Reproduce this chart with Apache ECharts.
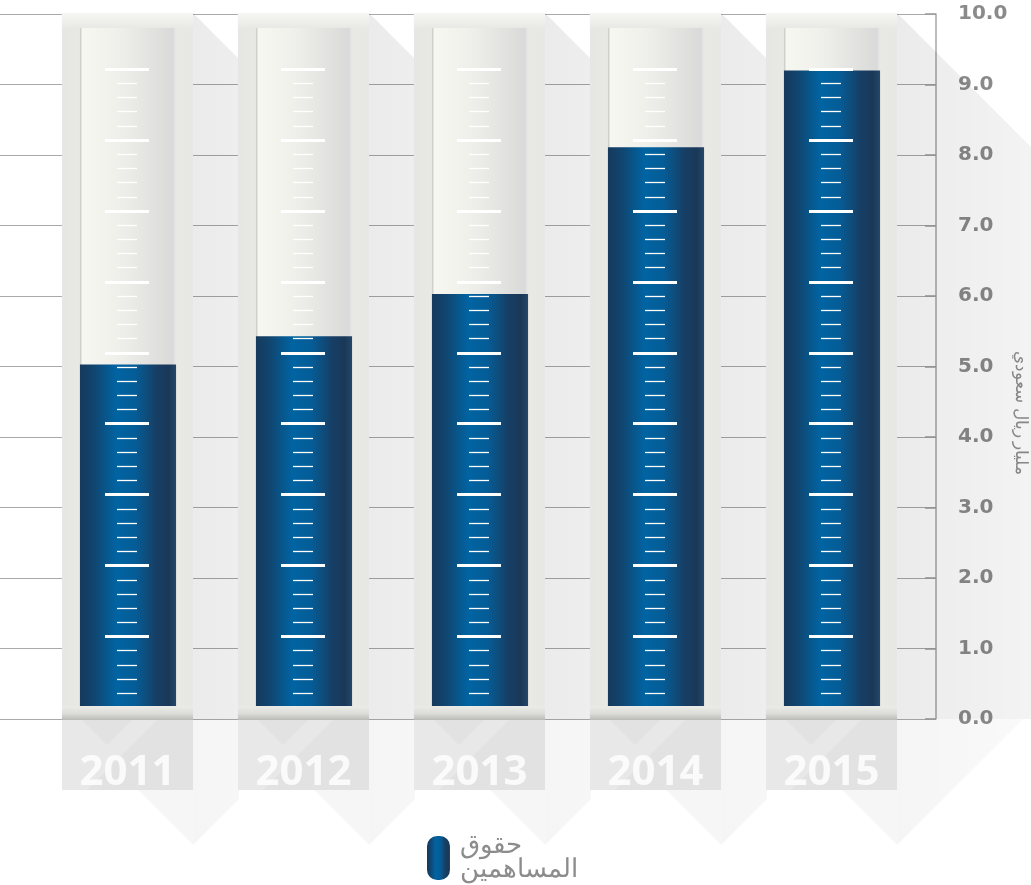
<!DOCTYPE html>
<html><head><meta charset="utf-8">
<script src="https://cdn.jsdelivr.net/npm/echarts@6/dist/echarts.min.js"></script>
<style>html,body{margin:0;padding:0;background:#fff}#c{width:1031px;height:885px}</style>
</head><body><div id="c"></div>
<script>
// ---- data ----
const categories = ['2011', '2012', '2013', '2014', '2015'];
const equityValues = [5.03, 5.43, 6.03, 8.11, 9.2];
const yMin = 0, yMax = 10, yInterval = 1;
const seriesName = 'حقوق المساهمين';
const legendLabel = 'حقوق\nالمساهمين';
const axisTitle = 'مليار ريال سعودي';

const G = echarts.graphic;
const blueStops = [
  {offset: 0, color: '#163a5c'}, {offset: 0.14, color: '#11456f'},
  {offset: 0.38, color: '#0064a2'}, {offset: 0.58, color: '#055c96'},
  {offset: 0.8, color: '#173e64'}, {offset: 0.93, color: '#1a3858'},
  {offset: 1, color: '#25476b'}
];

function renderItem(params, api) {
  const idx = api.value(0), val = api.value(1);
  const base = api.coord([idx, 0]);
  const xc = base[0], y0 = base[1];
  const yTop = api.coord([idx, yMax])[1];
  const yV = api.coord([idx, val])[1];
  const band = api.size([1, 0])[0];
  const unit = (y0 - yTop) / 10;
  const w = band * 0.745;
  const gap = band - w;
  const x0 = xc - w / 2, x1 = xc + w / 2;
  const colTop = yTop - 1;
  const tubeTop = yTop + 14;
  const tubeBot = y0 - 13;
  const boxBot = y0 + 71;
  const apexY = y0 + 126;
  const tubeX = x0 + 18, tubeW = w - 35;
  const last = params.dataIndex === categories.length - 1;
  const reach = last ? 330 : gap + 1;
  const children = [];
  // long shadows
  children.push({type: 'polygon', shape: {points: [[x1, colTop], [x1 + reach, colTop + reach], [x1 + reach, y0], [x1, y0]]},
    style: {fill: new G.LinearGradient(x1, 0, x1 + 330, 0, [{offset: 0, color: 'rgba(0,0,0,0.08)'}, {offset: 1, color: 'rgba(0,0,0,0)'}], true)}});
  const lowReach = last ? (apexY - y0) : gap + 1;
  children.push({type: 'polygon', shape: {points: last
      ? [[x1, y0], [x1 + (apexY - y0), y0], [x1, apexY]]
      : [[x1, y0], [x1 + lowReach, y0], [x1 + lowReach, apexY - lowReach], [x1, apexY]]},
    style: {fill: new G.LinearGradient(x1, 0, x1 + 200, 0, [{offset: 0, color: 'rgba(0,0,0,0.04)'}, {offset: 1, color: 'rgba(0,0,0,0.012)'}], true)}});
  children.push({type: 'polygon', shape: {points: [[x1 - 55, boxBot], [x1, boxBot], [x1, boxBot + 55]]},
    style: {fill: 'rgba(0,0,0,0.035)'}});
  // box under the axis
  children.push({type: 'rect', shape: {x: x0, y: y0 + 1, width: w, height: boxBot - y0 - 1}, style: {fill: '#e2e2e2'}});
  children.push({type: 'polygon', shape: {points: [[x0, y0 + 1], [x0 + 20, y0 + 1], [x0 + 45, y0 + 26], [x0 + 70, y0 + 1], [x0 + 95, y0 + 1], [x0 + 25, boxBot], [x0, boxBot]]},
    style: {fill: 'rgba(255,255,255,0.22)'}});
  // outer column
  children.push({type: 'rect', shape: {x: x0, y: colTop, width: w, height: tubeBot - colTop},
    style: {fill: new G.LinearGradient(0, 0, 1, 0, [{offset: 0, color: '#e6e6e2'}, {offset: 0.5, color: '#ededea'}, {offset: 1, color: '#e7e7e3'}])}});
  children.push({type: 'rect', shape: {x: x0, y: colTop, width: w, height: tubeTop - colTop},
    style: {fill: new G.LinearGradient(0, 0, 0, 1, [{offset: 0, color: '#f6f6f2'}, {offset: 0.4, color: '#f1f1ed'}, {offset: 1, color: '#e8e8e4'}])}});
  // base
  children.push({type: 'rect', shape: {x: x0, y: tubeBot, width: w, height: y0 + 1 - tubeBot},
    style: {fill: new G.LinearGradient(0, 0, 0, 1, [{offset: 0, color: '#ebebe7'}, {offset: 0.55, color: '#dcdcd8'}, {offset: 1, color: '#b9b9b5'}])}});
  // tube
  children.push({type: 'rect', shape: {x: tubeX, y: tubeTop, width: tubeW, height: tubeBot - tubeTop},
    style: {fill: new G.LinearGradient(0, 0, 1, 0, [{offset: 0, color: '#c4c4c0'}, {offset: 0.025, color: '#f7f7f2'}, {offset: 0.35, color: '#f1f1ec'}, {offset: 0.9, color: '#dcdcdb'}, {offset: 0.97, color: '#dadada'}, {offset: 1, color: '#eaeaea'}])}});
  // liquid
  children.push({type: 'rect', shape: {x: tubeX, y: yV, width: tubeW, height: tubeBot - yV},
    style: {fill: new G.LinearGradient(0, 0, 1, 0, blueStops)}});
  // scale ticks (decoration)
  const step = unit * 1.006 / 5;
  const cx = tubeX + tubeW / 2 - 1;
  for (let i = 0; i < 45; i++) {
    const y = Math.round(tubeBot - 13 - i * step) + 0.5;
    const major = (i + 1) % 5 === 0;
    const half = major ? 22 : 10;
    children.push({type: 'line', shape: {x1: cx - half, y1: y, x2: cx + half, y2: y},
      style: {stroke: '#ffffff', lineWidth: major ? 3 : 1.3}});
  }
  return {type: 'group', children};
}

const chart = echarts.init(document.getElementById('c'), null, {renderer: 'canvas'});
chart.setOption({
  animation: false,
  backgroundColor: '#ffffff',
  grid: [
    {left: 0, right: 95, top: 14, bottom: 166},
    {left: 39.5, right: 111.5, top: 14, bottom: 166}
  ],
  xAxis: [
    {gridIndex: 0, type: 'value', show: false, min: 0, max: 1},
    {gridIndex: 1, type: 'category', data: categories, z: 10,
      axisLine: {show: false}, axisTick: {show: false},
      axisLabel: {margin: 54, verticalAlign: 'middle', lineHeight: 42, fontSize: 42, fontWeight: 'bold',
        fontFamily: 'Open Sans', color: 'rgba(255,255,255,0.82)'}}
  ],
  yAxis: [
    {gridIndex: 0, type: 'value', position: 'right', min: yMin, max: yMax, interval: yInterval,
      axisLine: {show: true, onZero: false, lineStyle: {color: '#a6a6a6', width: 1.5}},
      axisTick: {show: true, inside: true, length: 11, lineStyle: {color: '#9a9a9a', width: 1.5}},
      splitLine: {show: true, lineStyle: {color: '#a9a9a9', width: 1}},
      axisLabel: {margin: 22, fontSize: 20, fontWeight: 'bold', fontFamily: 'DejaVu Sans', color: '#8a8a8a',
        padding: [3, 0, 0, 0], formatter: v => v.toFixed(1)}},
    {gridIndex: 1, type: 'value', min: yMin, max: yMax, interval: yInterval, show: false}
  ],
  legend: {
    left: 427, top: 833, padding: 0, itemWidth: 23, itemHeight: 44, itemGap: 10,
    data: [{name: seriesName, icon: 'path://M10,0 H13 A10,10 0 0 1 23,10 V34 A10,10 0 0 1 13,44 H10 A10,10 0 0 1 0,34 V10 A10,10 0 0 1 10,0 Z'}],
    formatter: () => legendLabel,
    textStyle: {color: '#8c8c8c', fontSize: 26, lineHeight: 24, padding: [0, 0, 0, 5]}
  },
  graphic: [{
    type: 'text', x: 1021, y: 413, rotation: -Math.PI / 2,
    style: {text: axisTitle, fill: '#8e8e8e', fontSize: 17, align: 'center', verticalAlign: 'middle'}
  }],
  series: [{
    type: 'custom', name: seriesName, xAxisIndex: 1, yAxisIndex: 1,
    renderItem: renderItem,
    itemStyle: {color: new G.LinearGradient(0, 0, 1, 0, blueStops)},
    data: equityValues.map((v, i) => [i, v])
  }]
});
</script></body></html>
